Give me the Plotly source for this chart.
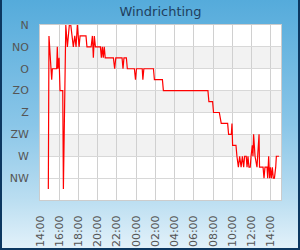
import base64
import plotly.graph_objects as go

# ---- data ----
times = [
    "2024-05-14 14:52", "2024-05-14 14:56", "2024-05-14 15:13", "2024-05-14 15:17",
    "2024-05-14 15:44", "2024-05-14 15:48", "2024-05-14 15:52", "2024-05-14 15:59",
    "2024-05-14 16:05", "2024-05-14 16:22", "2024-05-14 16:26", "2024-05-14 16:41",
    "2024-05-14 16:51", "2024-05-14 17:03", "2024-05-14 17:12", "2024-05-14 17:28",
    "2024-05-14 17:37", "2024-05-14 17:45", "2024-05-14 17:53", "2024-05-14 18:04",
    "2024-05-14 18:10", "2024-05-14 18:47", "2024-05-14 18:53", "2024-05-14 19:19",
    "2024-05-14 19:27", "2024-05-14 19:33", "2024-05-14 19:39", "2024-05-14 19:46",
    "2024-05-14 20:17", "2024-05-14 20:23", "2024-05-14 20:29", "2024-05-14 20:35",
    "2024-05-14 20:41", "2024-05-14 20:47", "2024-05-14 21:38", "2024-05-14 21:46",
    "2024-05-14 21:53", "2024-05-14 22:32", "2024-05-14 22:38", "2024-05-14 22:44",
    "2024-05-14 22:59", "2024-05-14 23:05", "2024-05-14 23:49", "2024-05-14 23:56",
    "2024-05-15 00:02", "2024-05-15 00:38", "2024-05-15 00:42", "2024-05-15 00:48",
    "2024-05-15 01:48", "2024-05-15 01:54", "2024-05-15 02:44", "2024-05-15 02:50",
    "2024-05-15 07:28", "2024-05-15 07:34", "2024-05-15 07:57", "2024-05-15 08:03",
    "2024-05-15 08:39", "2024-05-15 08:51", "2024-05-15 09:31", "2024-05-15 09:37",
    "2024-05-15 09:54", "2024-05-15 09:58", "2024-05-15 10:02", "2024-05-15 10:23",
    "2024-05-15 10:29", "2024-05-15 10:38", "2024-05-15 10:46", "2024-05-15 10:55",
    "2024-05-15 11:03", "2024-05-15 11:11", "2024-05-15 11:17", "2024-05-15 11:27",
    "2024-05-15 11:32", "2024-05-15 11:38", "2024-05-15 11:44", "2024-05-15 11:52",
    "2024-05-15 11:57", "2024-05-15 12:05", "2024-05-15 12:09", "2024-05-15 12:13",
    "2024-05-15 12:22", "2024-05-15 12:34", "2024-05-15 12:47", "2024-05-15 12:50",
    "2024-05-15 13:12", "2024-05-15 13:18", "2024-05-15 13:24", "2024-05-15 13:37",
    "2024-05-15 13:41", "2024-05-15 13:47", "2024-05-15 13:53", "2024-05-15 13:58",
    "2024-05-15 14:04", "2024-05-15 14:10", "2024-05-15 14:16", "2024-05-15 14:23",
    "2024-05-15 14:31", "2024-05-15 14:35", "2024-05-15 14:52",
]
direction = [
    0.5, 7.5, 5.5, 6,
    6, 7, 6, 6.5,
    5, 5, 0.5, 8,
    7, 8, 8, 7,
    7.5, 7, 8, 7,
    7.5, 7.5, 7, 7,
    7.5, 6.5, 7.5, 7,
    7, 6.5, 7, 6.5,
    7, 6.5, 6.5, 6,
    6.5, 6.5, 6, 6.5,
    6.5, 6, 6, 5.5,
    6, 6, 5.5, 6,
    6, 5.5, 5.5, 5,
    5, 4.5, 4.5, 4,
    4, 3.5, 3.5, 3,
    3, 3.5, 2.5, 2.5,
    2, 1.5, 2, 1.5,
    2, 1.5, 2, 2,
    1.5, 2, 1.5, 1.5,
    2, 2.5, 2, 3,
    2, 1.5, 3, 1.5,
    1.5, 1, 1.5, 1.5,
    1, 2, 1, 1.5,
    1, 1.5, 1, 1,
    1.5, 2, 2,
]
tick_vals = [1, 2, 3, 4, 5, 6, 7, 8]
tick_text = ["NW", "W", "ZW", "Z", "ZO", "O", "NO", "N"]
band_ranges = [(2, 3), (4, 5), (6, 7)]
x_start = "2024-05-14 14:00"
x_end = "2024-05-15 15:04"

W, H = 300, 250
ML, MR, MT, MB = 40, 19, 25, 50
PW, PH = W - ML - MR, H - MT - MB

svg = (
    f"<svg xmlns='http://www.w3.org/2000/svg' width='{W}' height='{H}' "
    f"viewBox='0 0 {W} {H}' preserveAspectRatio='none'>"
    "<defs><linearGradient id='g' x1='0' y1='0' x2='0' y2='1'>"
    "<stop offset='0' stop-color='#55abdb'/>"
    "<stop offset='0.5' stop-color='#8ac6e8'/>"
    "<stop offset='0.8' stop-color='#bbdef1'/>"
    "<stop offset='1' stop-color='#e4f2fa'/>"
    "</linearGradient></defs>"
    f"<rect width='{W}' height='{H}' fill='url(#g)'/>"
    f"<path d='M1 0 V{H-1} H{W-1} V0' fill='none' stroke='#0c3760' stroke-width='2'/>"
    "</svg>"
)
src = "data:image/svg+xml;base64," + base64.b64encode(svg.encode()).decode()

fig = go.Figure()
fig.add_trace(go.Scatter(
    x=times, y=direction, mode="lines",
    line=dict(color="#ff0000", width=1.2),
    hoverinfo="skip", showlegend=False,
))

shapes = [dict(type="rect", xref="paper", yref="paper", x0=0, x1=1, y0=0, y1=1,
               fillcolor="white", line=dict(width=0), layer="below")]
for lo, hi in band_ranges:
    shapes.append(dict(type="rect", xref="paper", yref="y", x0=0, x1=1, y0=lo, y1=hi,
                       fillcolor="#f2f2f2", line=dict(width=0), layer="below"))

fig.update_layout(
    width=W, height=H,
    margin=dict(l=ML, r=MR, t=MT, b=MB, pad=0, autoexpand=False),
    paper_bgcolor="#8ac6e8", plot_bgcolor="white",
    font=dict(family="DejaVu Sans", size=11, color="#555555"),
    title=dict(text="Windrichting", x=0.5, xanchor="center", xref="paper",
               y=1 - 11.5 / H, yref="container", yanchor="middle",
               font=dict(family="DejaVu Sans", size=13, color="#213f5e")),
    images=[dict(source=src, xref="paper", yref="paper",
                 x=-ML / PW, y=1 + MT / PH, sizex=W / PW, sizey=H / PH,
                 xanchor="left", yanchor="top", sizing="stretch", layer="below")],
    shapes=shapes,
    xaxis=dict(
        type="date", range=[x_start, x_end], automargin=False,
        tick0=x_start, dtick=2 * 3600 * 1000, tickformat="%H:%M",
        tickangle=-90, showgrid=True, gridcolor="#d0d0d0", gridwidth=1,
        showline=True, linecolor="#cccccc", mirror=True, zeroline=False,
        ticks="", ticklabelstandoff=10,
        tickfont=dict(size=11, color="#555555"),
    ),
    yaxis=dict(
        range=[0, 8], tickvals=tick_vals, ticktext=tick_text, automargin=False,
        showgrid=True, gridcolor="#d8d8d8", gridwidth=1,
        showline=True, linecolor="#cccccc", mirror=True, zeroline=False,
        ticks="", ticklabelstandoff=8,
        tickfont=dict(size=11, color="#555555"),
    ),
)

fig.write_html("out.html")
